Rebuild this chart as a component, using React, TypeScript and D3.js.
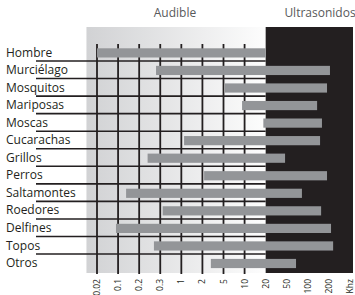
import React, { useEffect, useRef } from 'react';
import * as d3 from 'd3';

// Animals (rows, top to bottom)
const animals = [
  'Hombre', 'Murciélago', 'Mosquitos', 'Mariposas', 'Moscas', 'Cucarachas',
  'Grillos', 'Perros', 'Saltamontes', 'Roedores', 'Delfines', 'Topos', 'Otros',
];

// Hearing range in kHz
const minKhz = [0.02, 0.28, 5.35, 9.4, 18.9, 1.13, 0.24, 2.24, 0.138, 0.38, 0.092, 0.27, 3.2];
const maxKhz = [20, 205, 191, 144, 167, 158, 47.6, 191, 86, 163, 210, 220, 72];

// Axis ticks (equally spaced on the chart)
const tickValues = [0.02, 0.1, 0.2, 0.3, 1, 2, 5, 10, 20, 50, 100, 200];
const tickLabels = ['0.02', '0.1', '0.2', '0.3', '1', '2', '5', '10', '20', '50', '100', '200', 'Khz'];

const W = 355;
const H = 295;
const FONT = '"Open Sans", "Noto Sans", sans-serif';

const HearingChart: React.FC = () => {
  const svgRef = useRef<SVGSVGElement>(null);

  useEffect(() => {
    if (!svgRef.current) return;
    const svg = d3.select(svgRef.current);
    svg.selectAll('*').remove();

    // Label positions along x (13 equally spaced slots incl. "Khz")
    const xPoint = d3.scalePoint<string>().domain(tickLabels).range([97, 350]);
    // Piecewise scale: kHz value -> x, one segment per tick gap
    const xScale = d3
      .scaleLinear()
      .domain(tickValues)
      .range(tickValues.map((_, i) => xPoint(tickLabels[i]) as number));

    const step = xPoint.step();
    const audibleEnd = xScale(20);
    const plotTop = 27;
    const plotBottom = 273;

    // Rows: horizontal line under each row
    const lineY = (i: number) => 61 + i * 17.55;

    // Background gradient
    const grad = svg
      .append('defs')
      .append('linearGradient')
      .attr('id', 'audibleGrad')
      .attr('x1', 0).attr('x2', 1).attr('y1', 0).attr('y2', 0);
    grad.append('stop').attr('offset', '0%').attr('stop-color', '#d1d2d4');
    grad.append('stop').attr('offset', '100%').attr('stop-color', '#fdfdfd');

    svg.append('rect')
      .attr('x', xPoint('0.02')! - step / 2)
      .attr('y', plotTop)
      .attr('width', audibleEnd - (xPoint('0.02')! - step / 2))
      .attr('height', plotBottom - plotTop)
      .attr('fill', 'url(#audibleGrad)');

    svg.append('rect')
      .attr('x', audibleEnd)
      .attr('y', plotTop)
      .attr('width', 353 - audibleEnd)
      .attr('height', plotBottom - plotTop)
      .attr('fill', '#231f20');

    // Header labels
    svg.append('text')
      .attr('x', 175).attr('y', 16.5)
      .attr('text-anchor', 'middle')
      .style('font-family', FONT).style('font-size', '12px')
      .attr('fill', '#58595b')
      .text('Audible');

    svg.append('text')
      .attr('x', 320).attr('y', 16.5)
      .attr('text-anchor', 'middle')
      .style('font-family', FONT).style('font-size', '12px')
      .attr('fill', '#58595b')
      .text('Ultrasonidos');

    // Vertical grid lines (audible part only)
    svg.selectAll('.vgrid')
      .data(tickValues.filter(v => v < 20))
      .enter()
      .append('line')
      .attr('class', 'vgrid')
      .attr('x1', d => xScale(d)).attr('x2', d => xScale(d))
      .attr('y1', 44).attr('y2', 274)
      .attr('stroke', '#231f20')
      .attr('stroke-width', 1.8);

    // Horizontal row lines
    svg.selectAll('.hgrid')
      .data(animals.slice(0, animals.length - 1))
      .enter()
      .append('line')
      .attr('class', 'hgrid')
      .attr('x1', 36).attr('x2', audibleEnd)
      .attr('y1', (_, i) => lineY(i)).attr('y2', (_, i) => lineY(i))
      .attr('stroke', '#231f20')
      .attr('stroke-width', 1.6);

    // Bars
    svg.selectAll('.bar')
      .data(animals)
      .enter()
      .append('rect')
      .attr('class', 'bar')
      .attr('x', (_, i) => xScale(minKhz[i]))
      .attr('width', (_, i) => xScale(maxKhz[i]) - xScale(minKhz[i]))
      .attr('y', (_, i) => lineY(i) - 12.7)
      .attr('height', 9.2)
      .attr('fill', '#939598');

    // Row labels
    svg.selectAll('.label')
      .data(animals)
      .enter()
      .append('text')
      .attr('class', 'label')
      .attr('x', 6)
      .attr('y', (_, i) => lineY(i) - 4.5)
      .style('font-family', FONT)
      .style('font-size', '12px')
      .attr('fill', '#231f20')
      .text(d => d);

    // Rotated tick labels
    svg.selectAll('.tick')
      .data(tickLabels)
      .enter()
      .append('text')
      .attr('class', 'tick')
      .attr('transform', d => `translate(${(xPoint(d) as number) + 3},279) rotate(-90)`)
      .attr('text-anchor', 'end')
      .style('font-family', FONT)
      .style('font-size', '8.5px')
      .attr('fill', '#231f20')
      .text(d => d);
  }, []);

  return (
    <svg
      ref={svgRef}
      width={W}
      height={H}
      style={{ position: 'absolute', left: 0, top: 0, background: '#fff' }}
    />
  );
};

export default function App() {
  return <HearingChart />;
}
